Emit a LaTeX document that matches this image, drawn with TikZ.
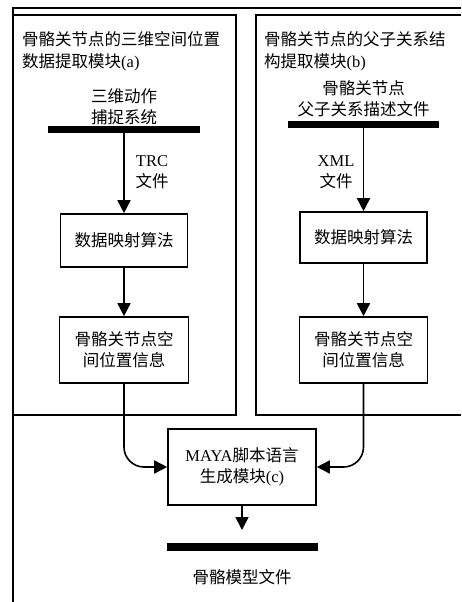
\documentclass[tikz,border=0pt]{standalone}
\usepackage{fontspec}
\setmainfont{Liberation Serif}
\newfontfamily\cjk{Noto Sans CJK SC}
\usetikzlibrary{arrows.meta}
\tikzset{
  frame/.style={line width=1.6pt},
  box/.style={draw, line width=1.6pt, align=center, inner sep=0pt, font=\fontsize{16.5}{21}\selectfont},
  bar/.style={fill=black, inner sep=0pt},
  lbl/.style={align=center, inner sep=0pt, font=\fontsize{16.5}{21}\selectfont},
  arr/.style={line width=1.6pt, -{Triangle[width=13pt,length=13pt]}},
}
\begin{document}
\begin{tikzpicture}[x=1pt,y=-1pt]
\useasboundingbox (0,0) rectangle (461,602);
% frames
\draw[frame] (13,602) -- (13,8) -- (461,8);
\draw[frame] (13,15) -- (236,15) -- (236,415) -- (13,415);
\draw[frame] (461,15) -- (256,15) -- (256,415) -- (461,415);
% titles
\node[lbl, anchor=west, align=left, font=\fontsize{16.5}{22}\selectfont] (ta) at (22,51) {{\cjk 骨骼关节点的三维空间位置}\\{\cjk 数据提取模块}(a)};
\node[lbl, anchor=west, align=left, font=\fontsize{16.5}{22}\selectfont] (tb) at (264,51) {{\cjk 骨骼关节点的父子关系结}\\{\cjk 构提取模块}(b)};
% sources
\node[lbl] (sa) at (124,107) {\cjk 三维动作\\\cjk 捕捉系统};
\node[bar, minimum width=152pt, minimum height=7pt] (bara) at (124,129.5) {};
\node[lbl] (sb) at (363.5,99) {\cjk 骨骼关节点\\\cjk 父子关系描述文件};
\node[bar, minimum width=151pt, minimum height=7pt] (barb) at (363.5,124.5) {};
% boxes
\node[box, minimum width=127pt, minimum height=53pt] (b1a) at (124,240.5) {\cjk 数据映射算法};
\node[box, minimum width=127pt, minimum height=51pt] (b1b) at (363.5,237.5) {\cjk 数据映射算法};
\node[box, minimum width=129pt, minimum height=66pt] (b2a) at (124,350) {\cjk 骨骼关节点空\\\cjk 间位置信息};
\node[box, minimum width=128pt, minimum height=66pt] (b2b) at (363.5,350) {\cjk 骨骼关节点空\\\cjk 间位置信息};
\node[box, minimum width=148pt, minimum height=76pt] (bc) at (242,467) {MAYA{\cjk 脚本语言}\\{\cjk 生成模块}(c)};
% edge labels
\node[lbl] (la) at (152,172) {TRC\\\cjk 文件};
\node[lbl] (lb) at (336,172) {XML\\\cjk 文件};
% connectors
\draw[arr] (bara.south) -- (b1a.north);
\draw[arr] (b1a.south) -- (b2a.north);
\draw[arr] (barb.south) -- (b1b.north);
\draw[arr] (b1b.south) -- (b2b.north);
\draw[arr, rounded corners=20pt] (b2a.south) |- (bc.west);
\draw[arr, rounded corners=20pt] (b2b.south) |- (bc.east);
\coordinate (cend) at (242,530);
\draw[arr] (bc.south) -- (cend);
% output
\node[bar, minimum width=151pt, minimum height=8pt] (barc) at (242.5,547) {};
\node[lbl] (out) at (242,577) {\cjk 骨骼模型文件};
\end{tikzpicture}
\end{document}
